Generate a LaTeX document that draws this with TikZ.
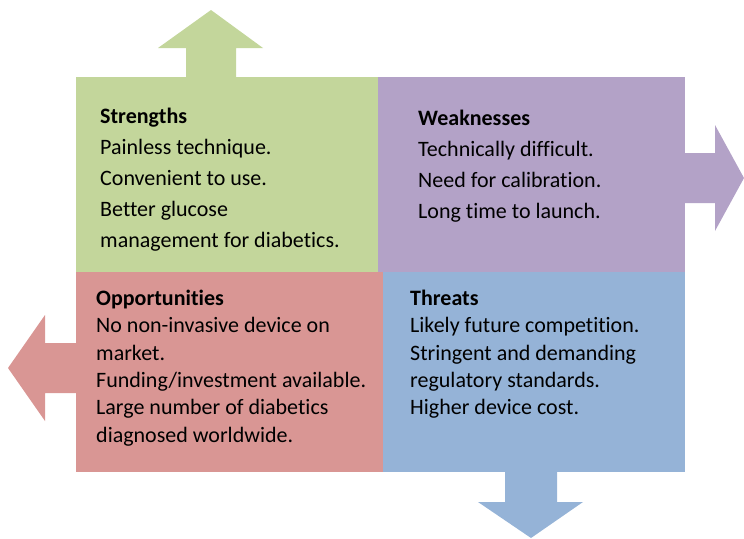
\documentclass[tikz,border=0pt]{standalone}
\usepackage{fontspec}
\setmainfont[Ligatures=NoCommon]{Carlito}
\definecolor{sgreen}{HTML}{C3D69B}
\definecolor{wpurple}{HTML}{B3A2C7}
\definecolor{ored}{HTML}{D99694}
\definecolor{tblue}{HTML}{95B3D7}
\begin{document}
\begin{tikzpicture}[x=1pt,y=-1pt,
  box/.style={anchor=north west,inner sep=0pt,outer sep=0pt},
  txt/.style={anchor=north west,inner sep=0pt,align=left,font=\fontsize{22}{31}\selectfont},
  txtb/.style={txt,font=\fontsize{22}{27.3}\selectfont}]
\useasboundingbox (0,0) rectangle (744,538);
\fill[sgreen] (186,80) -- (186,48) -- (158,48) -- (211,10) -- (263,48) -- (236,48) -- (236,80) -- cycle;
\fill[wpurple] (680,153) -- (715,153) -- (715,125) -- (744,178) -- (715,231) -- (715,203) -- (680,203) -- cycle;
\fill[ored] (80,343) -- (45,343) -- (45,315) -- (8,368) -- (45,421) -- (45,393) -- (80,393) -- cycle;
\fill[tblue] (505,468) -- (505,502) -- (478,502) -- (531,538) -- (583,502) -- (557,502) -- (557,468) -- cycle;
\node [box,fill=sgreen,minimum width=302,minimum height=196] (s) at (76,77) {};
\node [box,fill=wpurple,minimum width=307,minimum height=196] (w) at (378,77) {};
\node [box,fill=ored,minimum width=307,minimum height=200] (o) at (76,272) {};
\node [box,fill=tblue,minimum width=302,minimum height=200] (t) at (383,272) {};
\node [txt] (st) at (100,108) {\textbf{Strengths}\\Painless technique.\\Convenient to use.\\Better glucose\\management for diabetics.};
\node [txt] (wt) at (418,110) {\textbf{Weaknesses}\\Technically difficult.\\Need for calibration.\\Long time to launch.};
\node [txtb] (ot) at (96,290) {\textbf{Opportunities}\\No non-invasive device on\\market.\\Funding/investment available.\\Large number of diabetics\\diagnosed worldwide.};
\node [txtb] (tt) at (410,290) {\textbf{Threats}\\Likely future competition.\\Stringent and demanding\\regulatory standards.\\Higher device cost.};
\end{tikzpicture}
\end{document}
